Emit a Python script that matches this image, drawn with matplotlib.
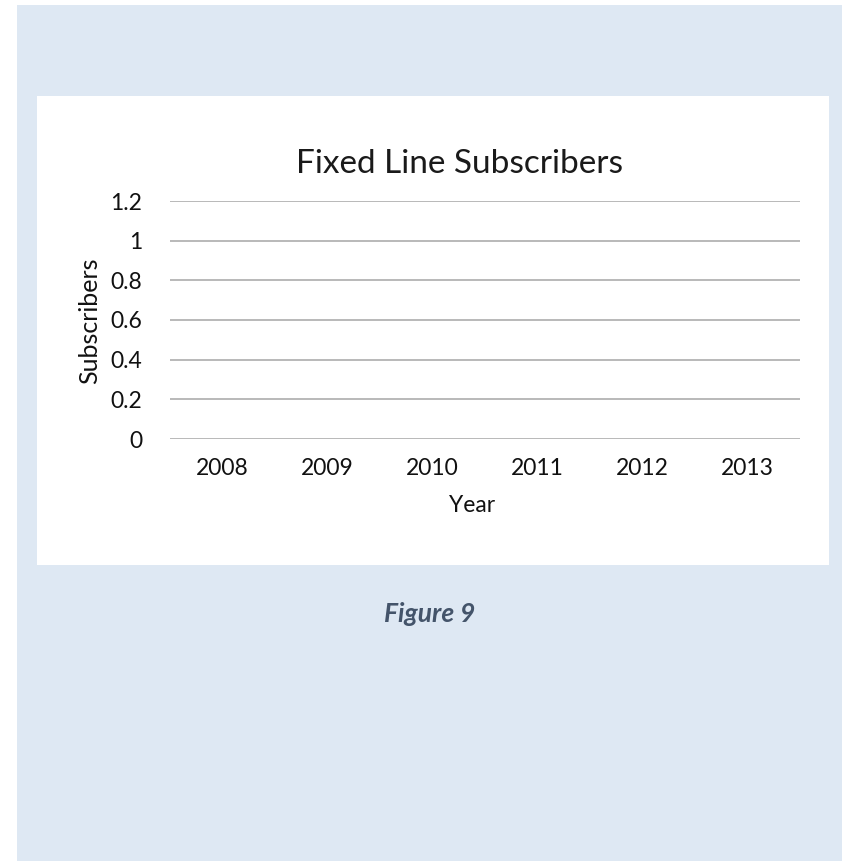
import numpy as np
import matplotlib
matplotlib.use("Agg")
import matplotlib.pyplot as plt
from matplotlib.patches import Rectangle

# Chart data: the series has no values entered yet
years = ["2008", "2009", "2010", "2011", "2012", "2013"]
subscribers = [np.nan, np.nan, np.nan, np.nan, np.nan, np.nan]
y_ticks = [0, 0.2, 0.4, 0.6, 0.8, 1, 1.2]
y_tick_labels = ["0", "0.2", "0.4", "0.6", "0.8", "1", "1.2"]

W, H = 843, 861
plt.rcParams["font.family"] = ["Lato", "DejaVu Sans"]

fig = plt.figure(figsize=(W / 100, H / 100), dpi=100)
fig.patch.set_facecolor("white")

def px_box(x0, y0, x1, y1):
    # pixel box (top-left origin) -> figure fraction
    return [x0 / W, 1 - y1 / H, (x1 - x0) / W, (y1 - y0) / H]

# page background and chart area
bg = fig.add_axes([0, 0, 1, 1])
bg.set_xlim(0, W)
bg.set_ylim(H, 0)
bg.axis("off")
bg.add_patch(Rectangle((17, 5), 825, 856, facecolor="#dee8f3", edgecolor="none"))
bg.add_patch(Rectangle((37, 96), 792, 469, facecolor="white", edgecolor="none"))

ax = fig.add_axes(px_box(170, 201, 800, 439))
ax.set_facecolor("none")
x = np.arange(len(years))
ax.plot(x, subscribers, color="#4472c4", linewidth=2.2)
ax.set_xlim(-0.5, len(years) - 0.5)
ax.set_ylim(0, 1.2)
ax.set_yticks(y_ticks)
ax.set_yticklabels(y_tick_labels)
ax.set_xticks(x)
ax.set_xticklabels(years)
ax.grid(axis="y", color="#a6a6a6", linewidth=1.1)
ax.set_axisbelow(True)
for side in ["top", "right", "left", "bottom"]:
    ax.spines[side].set_visible(False)
ax.tick_params(length=0, labelsize=16.5, labelcolor="#111111")
ax.tick_params(axis="y", pad=20)
ax.tick_params(axis="x", pad=14)

fig.text(460 / W, 1 - 164 / H, "Fixed Line Subscribers", fontsize=24,
         ha="center", va="center", color="#1a1a1a")
fig.text(90 / W, 1 - 321 / H, "Subscribers", fontsize=18, rotation=90,
         ha="center", va="center", color="#111111")
fig.text(472 / W, 1 - 506 / H, "Year", fontsize=16.5,
         ha="center", va="center", color="#111111")
fig.text(430 / W, 1 - 614 / H, "Figure 9", fontsize=19, fontweight="bold",
         fontstyle="italic", ha="center", va="center", color="#44546a")

fig.savefig("out.png", dpi=100)
